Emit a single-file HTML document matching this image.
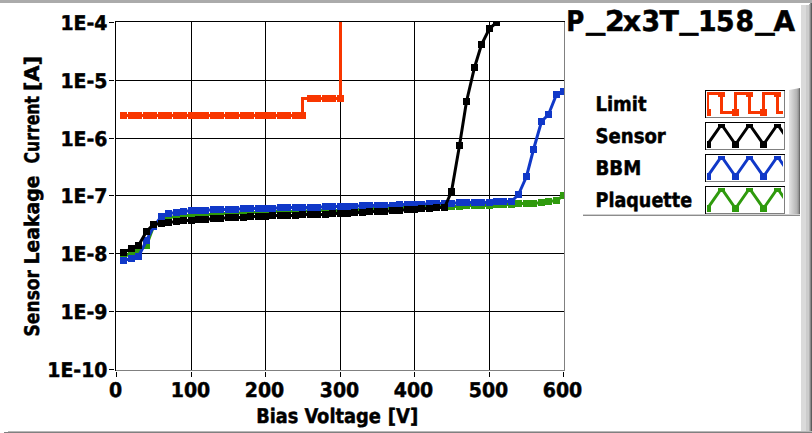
<!DOCTYPE html>
<html><head><meta charset="utf-8"><title>P_2x3T_158_A</title>
<style>html,body{margin:0;padding:0;background:#fff;overflow:hidden}body{width:812px;height:433px;position:relative}</style>
</head><body>
<svg width="812" height="433" viewBox="0 0 812 433" style="position:absolute;left:0;top:0">
<defs>
<clipPath id="pc"><rect x="116" y="22" width="448" height="348"/></clipPath>
<clipPath id="lc0"><rect x="707" y="92" width="76" height="24"/></clipPath>
<clipPath id="lc1"><rect x="707" y="124" width="76" height="24"/></clipPath>
<clipPath id="lc2"><rect x="707" y="156" width="76" height="24"/></clipPath>
<clipPath id="lc3"><rect x="707" y="188" width="76" height="24"/></clipPath>
<linearGradient id="lg" x1="0" x2="1" y1="0" y2="0"><stop offset="0" stop-color="#e4e4e4"/><stop offset="0.7" stop-color="#b4b4b4"/><stop offset="0.85" stop-color="#9a9a9a"/><stop offset="1" stop-color="#5a5a5a"/></linearGradient>
</defs>
<rect width="812" height="433" fill="#fff"/>
<g shape-rendering="crispEdges">
<rect x="0" y="0" width="812" height="3" fill="#ababab"/>
<rect x="801" y="5" width="5" height="428" fill="#dadada"/>
<rect x="806" y="5" width="3" height="428" fill="#cccccc"/>
<rect x="809" y="4" width="1" height="429" fill="#b0b0b0"/>
<rect x="810" y="3" width="1" height="430" fill="#8a8a8a"/>
<rect x="811" y="3" width="1" height="430" fill="#5c5c5c"/>
<rect x="8" y="431" width="804" height="1" fill="#b8b8b8"/>
<rect x="4" y="432" width="808" height="1" fill="#808080"/>
<rect x="191" y="22" width="1" height="348" fill="#000"/>
<rect x="265" y="22" width="1" height="348" fill="#000"/>
<rect x="340" y="22" width="1" height="348" fill="#000"/>
<rect x="414" y="22" width="1" height="348" fill="#000"/>
<rect x="489" y="22" width="1" height="348" fill="#000"/>
<rect x="116" y="80" width="448" height="1" fill="#000"/>
<rect x="116" y="138" width="448" height="1" fill="#000"/>
<rect x="116" y="195" width="448" height="1" fill="#000"/>
<rect x="116" y="253" width="448" height="1" fill="#000"/>
<rect x="116" y="311" width="448" height="1" fill="#000"/>
<rect x="115" y="21" width="450" height="1" fill="#000"/>
<rect x="115" y="21" width="1" height="350" fill="#000"/>
<rect x="564" y="22" width="1" height="349" fill="#808080"/>
<rect x="116" y="370" width="449" height="1" fill="#808080"/>
<rect x="109" y="22" width="5" height="1" fill="#000"/>
<rect x="109" y="80" width="5" height="1" fill="#000"/>
<rect x="109" y="138" width="5" height="1" fill="#000"/>
<rect x="109" y="195" width="5" height="1" fill="#000"/>
<rect x="109" y="253" width="5" height="1" fill="#000"/>
<rect x="109" y="311" width="5" height="1" fill="#000"/>
<rect x="109" y="369" width="5" height="1" fill="#000"/>
<rect x="116" y="372" width="1" height="5" fill="#000"/>
<rect x="191" y="372" width="1" height="5" fill="#000"/>
<rect x="265" y="372" width="1" height="5" fill="#000"/>
<rect x="340" y="372" width="1" height="5" fill="#000"/>
<rect x="414" y="372" width="1" height="5" fill="#000"/>
<rect x="489" y="372" width="1" height="5" fill="#000"/>
<rect x="563" y="372" width="1" height="5" fill="#000"/>
</g>
<g clip-path="url(#pc)">
<polyline fill="none" stroke="#2f9a0d" stroke-width="3" stroke-linejoin="miter" stroke-linecap="square" points="123.5,256.5 131.5,253.5 138.5,250.5 146.5,245.5 153.5,226.5 161.5,219.5 168.5,217.5 176.5,216.5 183.5,215.5 191.5,215.5 198.5,214.5 205.5,214.5 213.5,214.5 220.5,213.5 228.5,213.5 235.5,213.5 243.5,212.5 250.5,212.5 258.5,212.5 265.5,212.5 272.5,211.5 280.5,211.5 287.5,211.5 295.5,211.5 302.5,211.5 310.5,210.5 317.5,210.5 325.5,210.5 332.5,210.5 340.5,210.5 347.5,209.5 354.5,209.5 362.5,209.5 369.5,208.5 377.5,208.5 384.5,208.5 392.5,207.5 399.5,207.5 407.5,207.5 414.5,207.5 421.5,206.5 429.5,206.5 436.5,206.5 444.5,206.5 451.5,206.5 459.5,206.5 466.5,205.5 474.5,205.5 481.5,205.5 489.5,205.5 496.5,204.5 503.5,204.5 511.5,204.5 518.5,203.5 526.5,203.5 533.5,203.5 541.5,202.5 548.5,201.5 556.5,200.5 563.5,195.5"/>
<g shape-rendering="crispEdges"><rect x="120" y="253" width="7" height="7" fill="#2f9a0d"/><rect x="128" y="250" width="7" height="7" fill="#2f9a0d"/><rect x="135" y="247" width="7" height="7" fill="#2f9a0d"/><rect x="143" y="242" width="7" height="7" fill="#2f9a0d"/><rect x="150" y="223" width="7" height="7" fill="#2f9a0d"/><rect x="158" y="216" width="7" height="7" fill="#2f9a0d"/><rect x="165" y="214" width="7" height="7" fill="#2f9a0d"/><rect x="173" y="213" width="7" height="7" fill="#2f9a0d"/><rect x="180" y="212" width="7" height="7" fill="#2f9a0d"/><rect x="188" y="212" width="7" height="7" fill="#2f9a0d"/><rect x="195" y="211" width="7" height="7" fill="#2f9a0d"/><rect x="202" y="211" width="7" height="7" fill="#2f9a0d"/><rect x="210" y="211" width="7" height="7" fill="#2f9a0d"/><rect x="217" y="210" width="7" height="7" fill="#2f9a0d"/><rect x="225" y="210" width="7" height="7" fill="#2f9a0d"/><rect x="232" y="210" width="7" height="7" fill="#2f9a0d"/><rect x="240" y="209" width="7" height="7" fill="#2f9a0d"/><rect x="247" y="209" width="7" height="7" fill="#2f9a0d"/><rect x="255" y="209" width="7" height="7" fill="#2f9a0d"/><rect x="262" y="209" width="7" height="7" fill="#2f9a0d"/><rect x="269" y="208" width="7" height="7" fill="#2f9a0d"/><rect x="277" y="208" width="7" height="7" fill="#2f9a0d"/><rect x="284" y="208" width="7" height="7" fill="#2f9a0d"/><rect x="292" y="208" width="7" height="7" fill="#2f9a0d"/><rect x="299" y="208" width="7" height="7" fill="#2f9a0d"/><rect x="307" y="207" width="7" height="7" fill="#2f9a0d"/><rect x="314" y="207" width="7" height="7" fill="#2f9a0d"/><rect x="322" y="207" width="7" height="7" fill="#2f9a0d"/><rect x="329" y="207" width="7" height="7" fill="#2f9a0d"/><rect x="337" y="207" width="7" height="7" fill="#2f9a0d"/><rect x="344" y="206" width="7" height="7" fill="#2f9a0d"/><rect x="351" y="206" width="7" height="7" fill="#2f9a0d"/><rect x="359" y="206" width="7" height="7" fill="#2f9a0d"/><rect x="366" y="205" width="7" height="7" fill="#2f9a0d"/><rect x="374" y="205" width="7" height="7" fill="#2f9a0d"/><rect x="381" y="205" width="7" height="7" fill="#2f9a0d"/><rect x="389" y="204" width="7" height="7" fill="#2f9a0d"/><rect x="396" y="204" width="7" height="7" fill="#2f9a0d"/><rect x="404" y="204" width="7" height="7" fill="#2f9a0d"/><rect x="411" y="204" width="7" height="7" fill="#2f9a0d"/><rect x="418" y="203" width="7" height="7" fill="#2f9a0d"/><rect x="426" y="203" width="7" height="7" fill="#2f9a0d"/><rect x="433" y="203" width="7" height="7" fill="#2f9a0d"/><rect x="441" y="203" width="7" height="7" fill="#2f9a0d"/><rect x="448" y="203" width="7" height="7" fill="#2f9a0d"/><rect x="456" y="203" width="7" height="7" fill="#2f9a0d"/><rect x="463" y="202" width="7" height="7" fill="#2f9a0d"/><rect x="471" y="202" width="7" height="7" fill="#2f9a0d"/><rect x="478" y="202" width="7" height="7" fill="#2f9a0d"/><rect x="486" y="202" width="7" height="7" fill="#2f9a0d"/><rect x="493" y="201" width="7" height="7" fill="#2f9a0d"/><rect x="500" y="201" width="7" height="7" fill="#2f9a0d"/><rect x="508" y="201" width="7" height="7" fill="#2f9a0d"/><rect x="515" y="200" width="7" height="7" fill="#2f9a0d"/><rect x="523" y="200" width="7" height="7" fill="#2f9a0d"/><rect x="530" y="200" width="7" height="7" fill="#2f9a0d"/><rect x="538" y="199" width="7" height="7" fill="#2f9a0d"/><rect x="545" y="198" width="7" height="7" fill="#2f9a0d"/><rect x="553" y="197" width="7" height="7" fill="#2f9a0d"/><rect x="560" y="192" width="7" height="7" fill="#2f9a0d"/></g>
<polyline fill="none" stroke="#1038c8" stroke-width="3" stroke-linejoin="miter" stroke-linecap="square" points="123.5,260.5 131.5,258.5 138.5,256.5 146.5,240.5 153.5,226.5 161.5,216.5 168.5,213.5 176.5,212.5 183.5,211.5 191.5,210.5 198.5,210.5 205.5,210.5 213.5,209.5 220.5,209.5 228.5,209.5 235.5,209.5 243.5,208.5 250.5,208.5 258.5,208.5 265.5,208.5 272.5,208.5 280.5,207.5 287.5,207.5 295.5,207.5 302.5,207.5 310.5,207.5 317.5,207.5 325.5,206.5 332.5,206.5 340.5,206.5 347.5,206.5 354.5,206.5 362.5,205.5 369.5,205.5 377.5,205.5 384.5,205.5 392.5,205.5 399.5,204.5 407.5,204.5 414.5,204.5 421.5,204.5 429.5,203.5 436.5,203.5 444.5,203.5 451.5,203.5 459.5,202.5 466.5,202.5 474.5,202.5 481.5,202.5 489.5,202.5 496.5,201.5 503.5,201.5 511.5,201.5 518.5,194.5 526.5,176.5 533.5,149.5 541.5,121.5 548.5,114.5 556.5,94.5 563.5,91.5"/>
<g shape-rendering="crispEdges"><rect x="120" y="257" width="7" height="7" fill="#1038c8"/><rect x="128" y="255" width="7" height="7" fill="#1038c8"/><rect x="135" y="253" width="7" height="7" fill="#1038c8"/><rect x="143" y="237" width="7" height="7" fill="#1038c8"/><rect x="150" y="223" width="7" height="7" fill="#1038c8"/><rect x="158" y="213" width="7" height="7" fill="#1038c8"/><rect x="165" y="210" width="7" height="7" fill="#1038c8"/><rect x="173" y="209" width="7" height="7" fill="#1038c8"/><rect x="180" y="208" width="7" height="7" fill="#1038c8"/><rect x="188" y="207" width="7" height="7" fill="#1038c8"/><rect x="195" y="207" width="7" height="7" fill="#1038c8"/><rect x="202" y="207" width="7" height="7" fill="#1038c8"/><rect x="210" y="206" width="7" height="7" fill="#1038c8"/><rect x="217" y="206" width="7" height="7" fill="#1038c8"/><rect x="225" y="206" width="7" height="7" fill="#1038c8"/><rect x="232" y="206" width="7" height="7" fill="#1038c8"/><rect x="240" y="205" width="7" height="7" fill="#1038c8"/><rect x="247" y="205" width="7" height="7" fill="#1038c8"/><rect x="255" y="205" width="7" height="7" fill="#1038c8"/><rect x="262" y="205" width="7" height="7" fill="#1038c8"/><rect x="269" y="205" width="7" height="7" fill="#1038c8"/><rect x="277" y="204" width="7" height="7" fill="#1038c8"/><rect x="284" y="204" width="7" height="7" fill="#1038c8"/><rect x="292" y="204" width="7" height="7" fill="#1038c8"/><rect x="299" y="204" width="7" height="7" fill="#1038c8"/><rect x="307" y="204" width="7" height="7" fill="#1038c8"/><rect x="314" y="204" width="7" height="7" fill="#1038c8"/><rect x="322" y="203" width="7" height="7" fill="#1038c8"/><rect x="329" y="203" width="7" height="7" fill="#1038c8"/><rect x="337" y="203" width="7" height="7" fill="#1038c8"/><rect x="344" y="203" width="7" height="7" fill="#1038c8"/><rect x="351" y="203" width="7" height="7" fill="#1038c8"/><rect x="359" y="202" width="7" height="7" fill="#1038c8"/><rect x="366" y="202" width="7" height="7" fill="#1038c8"/><rect x="374" y="202" width="7" height="7" fill="#1038c8"/><rect x="381" y="202" width="7" height="7" fill="#1038c8"/><rect x="389" y="202" width="7" height="7" fill="#1038c8"/><rect x="396" y="201" width="7" height="7" fill="#1038c8"/><rect x="404" y="201" width="7" height="7" fill="#1038c8"/><rect x="411" y="201" width="7" height="7" fill="#1038c8"/><rect x="418" y="201" width="7" height="7" fill="#1038c8"/><rect x="426" y="200" width="7" height="7" fill="#1038c8"/><rect x="433" y="200" width="7" height="7" fill="#1038c8"/><rect x="441" y="200" width="7" height="7" fill="#1038c8"/><rect x="448" y="200" width="7" height="7" fill="#1038c8"/><rect x="456" y="199" width="7" height="7" fill="#1038c8"/><rect x="463" y="199" width="7" height="7" fill="#1038c8"/><rect x="471" y="199" width="7" height="7" fill="#1038c8"/><rect x="478" y="199" width="7" height="7" fill="#1038c8"/><rect x="486" y="199" width="7" height="7" fill="#1038c8"/><rect x="493" y="198" width="7" height="7" fill="#1038c8"/><rect x="500" y="198" width="7" height="7" fill="#1038c8"/><rect x="508" y="198" width="7" height="7" fill="#1038c8"/><rect x="515" y="191" width="7" height="7" fill="#1038c8"/><rect x="523" y="173" width="7" height="7" fill="#1038c8"/><rect x="530" y="146" width="7" height="7" fill="#1038c8"/><rect x="538" y="118" width="7" height="7" fill="#1038c8"/><rect x="545" y="111" width="7" height="7" fill="#1038c8"/><rect x="553" y="91" width="7" height="7" fill="#1038c8"/><rect x="560" y="88" width="7" height="7" fill="#1038c8"/></g>
<polyline fill="none" stroke="#000" stroke-width="3" stroke-linejoin="miter" stroke-linecap="square" points="123.5,252.5 131.5,248.5 138.5,245.5 146.5,231.5 153.5,224.5 161.5,223.5 168.5,222.5 176.5,221.5 183.5,220.5 191.5,220.5 198.5,219.5 205.5,219.5 213.5,218.5 220.5,218.5 228.5,217.5 235.5,217.5 243.5,217.5 250.5,216.5 258.5,216.5 265.5,216.5 272.5,215.5 280.5,215.5 287.5,215.5 295.5,215.5 302.5,214.5 310.5,214.5 317.5,214.5 325.5,214.5 332.5,213.5 340.5,213.5 347.5,213.5 354.5,212.5 362.5,212.5 369.5,211.5 377.5,211.5 384.5,211.5 392.5,210.5 399.5,210.5 407.5,209.5 414.5,209.5 421.5,208.5 429.5,208.5 436.5,207.5 444.5,207.5 451.5,191.5 459.5,145.5 466.5,101.5 474.5,67.5 481.5,44.5 489.5,28.5 496.5,22.5"/>
<g shape-rendering="crispEdges"><rect x="120" y="249" width="7" height="7" fill="#000"/><rect x="128" y="245" width="7" height="7" fill="#000"/><rect x="135" y="242" width="7" height="7" fill="#000"/><rect x="143" y="228" width="7" height="7" fill="#000"/><rect x="150" y="221" width="7" height="7" fill="#000"/><rect x="158" y="220" width="7" height="7" fill="#000"/><rect x="165" y="219" width="7" height="7" fill="#000"/><rect x="173" y="218" width="7" height="7" fill="#000"/><rect x="180" y="217" width="7" height="7" fill="#000"/><rect x="188" y="217" width="7" height="7" fill="#000"/><rect x="195" y="216" width="7" height="7" fill="#000"/><rect x="202" y="216" width="7" height="7" fill="#000"/><rect x="210" y="215" width="7" height="7" fill="#000"/><rect x="217" y="215" width="7" height="7" fill="#000"/><rect x="225" y="214" width="7" height="7" fill="#000"/><rect x="232" y="214" width="7" height="7" fill="#000"/><rect x="240" y="214" width="7" height="7" fill="#000"/><rect x="247" y="213" width="7" height="7" fill="#000"/><rect x="255" y="213" width="7" height="7" fill="#000"/><rect x="262" y="213" width="7" height="7" fill="#000"/><rect x="269" y="212" width="7" height="7" fill="#000"/><rect x="277" y="212" width="7" height="7" fill="#000"/><rect x="284" y="212" width="7" height="7" fill="#000"/><rect x="292" y="212" width="7" height="7" fill="#000"/><rect x="299" y="211" width="7" height="7" fill="#000"/><rect x="307" y="211" width="7" height="7" fill="#000"/><rect x="314" y="211" width="7" height="7" fill="#000"/><rect x="322" y="211" width="7" height="7" fill="#000"/><rect x="329" y="210" width="7" height="7" fill="#000"/><rect x="337" y="210" width="7" height="7" fill="#000"/><rect x="344" y="210" width="7" height="7" fill="#000"/><rect x="351" y="209" width="7" height="7" fill="#000"/><rect x="359" y="209" width="7" height="7" fill="#000"/><rect x="366" y="208" width="7" height="7" fill="#000"/><rect x="374" y="208" width="7" height="7" fill="#000"/><rect x="381" y="208" width="7" height="7" fill="#000"/><rect x="389" y="207" width="7" height="7" fill="#000"/><rect x="396" y="207" width="7" height="7" fill="#000"/><rect x="404" y="206" width="7" height="7" fill="#000"/><rect x="411" y="206" width="7" height="7" fill="#000"/><rect x="418" y="205" width="7" height="7" fill="#000"/><rect x="426" y="205" width="7" height="7" fill="#000"/><rect x="433" y="204" width="7" height="7" fill="#000"/><rect x="441" y="204" width="7" height="7" fill="#000"/><rect x="448" y="188" width="7" height="7" fill="#000"/><rect x="456" y="142" width="7" height="7" fill="#000"/><rect x="463" y="98" width="7" height="7" fill="#000"/><rect x="471" y="64" width="7" height="7" fill="#000"/><rect x="478" y="41" width="7" height="7" fill="#000"/><rect x="486" y="25" width="7" height="7" fill="#000"/><rect x="493" y="19" width="7" height="7" fill="#000"/></g>
<polyline fill="none" stroke="#f83600" stroke-width="3" stroke-linejoin="miter" stroke-linecap="square" points="123.5,115.5 131.5,115.5 138.5,115.5 146.5,115.5 153.5,115.5 161.5,115.5 168.5,115.5 176.5,115.5 183.5,115.5 191.5,115.5 198.5,115.5 205.5,115.5 213.5,115.5 220.5,115.5 228.5,115.5 235.5,115.5 243.5,115.5 250.5,115.5 258.5,115.5 265.5,115.5 272.5,115.5 280.5,115.5 287.5,115.5 295.5,115.5 302.5,115.5 302.5,98.5 310.5,98.5 317.5,98.5 325.5,98.5 332.5,98.5 340.5,98.5 340.5,10.5"/>
<g shape-rendering="crispEdges"><rect x="120" y="112" width="7" height="7" fill="#f83600"/><rect x="128" y="112" width="7" height="7" fill="#f83600"/><rect x="135" y="112" width="7" height="7" fill="#f83600"/><rect x="143" y="112" width="7" height="7" fill="#f83600"/><rect x="150" y="112" width="7" height="7" fill="#f83600"/><rect x="158" y="112" width="7" height="7" fill="#f83600"/><rect x="165" y="112" width="7" height="7" fill="#f83600"/><rect x="173" y="112" width="7" height="7" fill="#f83600"/><rect x="180" y="112" width="7" height="7" fill="#f83600"/><rect x="188" y="112" width="7" height="7" fill="#f83600"/><rect x="195" y="112" width="7" height="7" fill="#f83600"/><rect x="202" y="112" width="7" height="7" fill="#f83600"/><rect x="210" y="112" width="7" height="7" fill="#f83600"/><rect x="217" y="112" width="7" height="7" fill="#f83600"/><rect x="225" y="112" width="7" height="7" fill="#f83600"/><rect x="232" y="112" width="7" height="7" fill="#f83600"/><rect x="240" y="112" width="7" height="7" fill="#f83600"/><rect x="247" y="112" width="7" height="7" fill="#f83600"/><rect x="255" y="112" width="7" height="7" fill="#f83600"/><rect x="262" y="112" width="7" height="7" fill="#f83600"/><rect x="269" y="112" width="7" height="7" fill="#f83600"/><rect x="277" y="112" width="7" height="7" fill="#f83600"/><rect x="284" y="112" width="7" height="7" fill="#f83600"/><rect x="292" y="112" width="7" height="7" fill="#f83600"/><rect x="299" y="112" width="7" height="7" fill="#f83600"/><rect x="307" y="95" width="7" height="7" fill="#f83600"/><rect x="314" y="95" width="7" height="7" fill="#f83600"/><rect x="322" y="95" width="7" height="7" fill="#f83600"/><rect x="329" y="95" width="7" height="7" fill="#f83600"/><rect x="337" y="95" width="7" height="7" fill="#f83600"/></g>
</g>
<polygon points="789,90 800,88 800,216 789,214" fill="url(#lg)"/>
<rect x="583" y="214" width="217" height="1" fill="#d0d0d0" shape-rendering="crispEdges"/>
<rect x="583" y="215" width="217" height="1" fill="#8c8c8c" shape-rendering="crispEdges"/>
<g shape-rendering="crispEdges"><rect x="705" y="90" width="80" height="28" fill="#fff"/>
<rect x="705" y="90" width="80" height="1" fill="#000"/><rect x="705" y="90" width="1" height="28" fill="#000"/>
<rect x="784" y="91" width="1" height="27" fill="#808080"/><rect x="706" y="117" width="79" height="1" fill="#808080"/></g>
<g clip-path="url(#lc0)">
<polyline fill="none" stroke="#f83600" stroke-width="3" stroke-linejoin="miter" stroke-linecap="square" points="707.5,112.5 707.5,93.5 721.5,93.5 721.5,112.5 735.5,112.5 735.5,93.5 749.5,93.5 749.5,112.5 763.5,112.5 763.5,93.5 777.5,93.5 777.5,112.5 791.5,112.5"/>
<g shape-rendering="crispEdges"><rect x="704" y="109" width="7" height="7" fill="#f83600"/><rect x="718" y="90" width="7" height="7" fill="#f83600"/><rect x="732" y="109" width="7" height="7" fill="#f83600"/><rect x="746" y="90" width="7" height="7" fill="#f83600"/><rect x="760" y="109" width="7" height="7" fill="#f83600"/><rect x="774" y="90" width="7" height="7" fill="#f83600"/><rect x="788" y="109" width="7" height="7" fill="#f83600"/></g>
</g>
<g shape-rendering="crispEdges"><rect x="705" y="122" width="80" height="28" fill="#fff"/>
<rect x="705" y="122" width="80" height="1" fill="#000"/><rect x="705" y="122" width="1" height="28" fill="#000"/>
<rect x="784" y="123" width="1" height="27" fill="#808080"/><rect x="706" y="149" width="79" height="1" fill="#808080"/></g>
<g clip-path="url(#lc1)">
<polyline fill="none" stroke="#000" stroke-width="3" stroke-linejoin="miter" stroke-linecap="square" points="707.5,144.5 721.5,124.5 735.5,144.5 749.5,124.5 763.5,144.5 777.5,124.5 791.5,144.5"/>
<g shape-rendering="crispEdges"><rect x="704" y="141" width="7" height="7" fill="#000"/><rect x="718" y="121" width="7" height="7" fill="#000"/><rect x="732" y="141" width="7" height="7" fill="#000"/><rect x="746" y="121" width="7" height="7" fill="#000"/><rect x="760" y="141" width="7" height="7" fill="#000"/><rect x="774" y="121" width="7" height="7" fill="#000"/><rect x="788" y="141" width="7" height="7" fill="#000"/></g>
</g>
<g shape-rendering="crispEdges"><rect x="705" y="154" width="80" height="28" fill="#fff"/>
<rect x="705" y="154" width="80" height="1" fill="#000"/><rect x="705" y="154" width="1" height="28" fill="#000"/>
<rect x="784" y="155" width="1" height="27" fill="#808080"/><rect x="706" y="181" width="79" height="1" fill="#808080"/></g>
<g clip-path="url(#lc2)">
<polyline fill="none" stroke="#1038c8" stroke-width="3" stroke-linejoin="miter" stroke-linecap="square" points="707.5,176.5 721.5,156.5 735.5,176.5 749.5,156.5 763.5,176.5 777.5,156.5 791.5,176.5"/>
<g shape-rendering="crispEdges"><rect x="704" y="173" width="7" height="7" fill="#1038c8"/><rect x="718" y="153" width="7" height="7" fill="#1038c8"/><rect x="732" y="173" width="7" height="7" fill="#1038c8"/><rect x="746" y="153" width="7" height="7" fill="#1038c8"/><rect x="760" y="173" width="7" height="7" fill="#1038c8"/><rect x="774" y="153" width="7" height="7" fill="#1038c8"/><rect x="788" y="173" width="7" height="7" fill="#1038c8"/></g>
</g>
<g shape-rendering="crispEdges"><rect x="705" y="186" width="80" height="28" fill="#fff"/>
<rect x="705" y="186" width="80" height="1" fill="#000"/><rect x="705" y="186" width="1" height="28" fill="#000"/>
<rect x="784" y="187" width="1" height="27" fill="#808080"/><rect x="706" y="213" width="79" height="1" fill="#808080"/></g>
<g clip-path="url(#lc3)">
<polyline fill="none" stroke="#2f9a0d" stroke-width="3" stroke-linejoin="miter" stroke-linecap="square" points="707.5,208.5 721.5,188.5 735.5,208.5 749.5,188.5 763.5,208.5 777.5,188.5 791.5,208.5"/>
<g shape-rendering="crispEdges"><rect x="704" y="205" width="7" height="7" fill="#2f9a0d"/><rect x="718" y="185" width="7" height="7" fill="#2f9a0d"/><rect x="732" y="205" width="7" height="7" fill="#2f9a0d"/><rect x="746" y="185" width="7" height="7" fill="#2f9a0d"/><rect x="760" y="205" width="7" height="7" fill="#2f9a0d"/><rect x="774" y="185" width="7" height="7" fill="#2f9a0d"/><rect x="788" y="205" width="7" height="7" fill="#2f9a0d"/></g>
</g>
<text x="60.45" y="30" font-size="20.2" text-anchor="start" font-family="'DejaVu Sans Condensed','DejaVu Sans','Liberation Sans',sans-serif" font-stretch="condensed" font-weight="bold" text-rendering="geometricPrecision" stroke="#000" stroke-width="0.45" stroke-linejoin="round"  textLength="47.05" lengthAdjust="spacingAndGlyphs">1E-4</text>
<text x="60.45" y="88" font-size="20.2" text-anchor="start" font-family="'DejaVu Sans Condensed','DejaVu Sans','Liberation Sans',sans-serif" font-stretch="condensed" font-weight="bold" text-rendering="geometricPrecision" stroke="#000" stroke-width="0.45" stroke-linejoin="round"  textLength="47.05" lengthAdjust="spacingAndGlyphs">1E-5</text>
<text x="60.45" y="146" font-size="20.2" text-anchor="start" font-family="'DejaVu Sans Condensed','DejaVu Sans','Liberation Sans',sans-serif" font-stretch="condensed" font-weight="bold" text-rendering="geometricPrecision" stroke="#000" stroke-width="0.45" stroke-linejoin="round"  textLength="47.05" lengthAdjust="spacingAndGlyphs">1E-6</text>
<text x="60.45" y="203" font-size="20.2" text-anchor="start" font-family="'DejaVu Sans Condensed','DejaVu Sans','Liberation Sans',sans-serif" font-stretch="condensed" font-weight="bold" text-rendering="geometricPrecision" stroke="#000" stroke-width="0.45" stroke-linejoin="round"  textLength="47.05" lengthAdjust="spacingAndGlyphs">1E-7</text>
<text x="60.45" y="261" font-size="20.2" text-anchor="start" font-family="'DejaVu Sans Condensed','DejaVu Sans','Liberation Sans',sans-serif" font-stretch="condensed" font-weight="bold" text-rendering="geometricPrecision" stroke="#000" stroke-width="0.45" stroke-linejoin="round"  textLength="47.05" lengthAdjust="spacingAndGlyphs">1E-8</text>
<text x="60.45" y="319" font-size="20.2" text-anchor="start" font-family="'DejaVu Sans Condensed','DejaVu Sans','Liberation Sans',sans-serif" font-stretch="condensed" font-weight="bold" text-rendering="geometricPrecision" stroke="#000" stroke-width="0.45" stroke-linejoin="round"  textLength="47.05" lengthAdjust="spacingAndGlyphs">1E-9</text>
<text x="47.3" y="377" font-size="20.2" text-anchor="start" font-family="'DejaVu Sans Condensed','DejaVu Sans','Liberation Sans',sans-serif" font-stretch="condensed" font-weight="bold" text-rendering="geometricPrecision" stroke="#000" stroke-width="0.45" stroke-linejoin="round"  textLength="60.2" lengthAdjust="spacingAndGlyphs">1E-10</text>
<text x="108.925" y="397" font-size="20.2" text-anchor="start" font-family="'DejaVu Sans Condensed','DejaVu Sans','Liberation Sans',sans-serif" font-stretch="condensed" font-weight="bold" text-rendering="geometricPrecision" stroke="#000" stroke-width="0.45" stroke-linejoin="round"  textLength="13.15" lengthAdjust="spacingAndGlyphs">0</text>
<text x="170.775" y="397" font-size="20.2" text-anchor="start" font-family="'DejaVu Sans Condensed','DejaVu Sans','Liberation Sans',sans-serif" font-stretch="condensed" font-weight="bold" text-rendering="geometricPrecision" stroke="#000" stroke-width="0.45" stroke-linejoin="round"  textLength="39.45" lengthAdjust="spacingAndGlyphs">100</text>
<text x="244.775" y="397" font-size="20.2" text-anchor="start" font-family="'DejaVu Sans Condensed','DejaVu Sans','Liberation Sans',sans-serif" font-stretch="condensed" font-weight="bold" text-rendering="geometricPrecision" stroke="#000" stroke-width="0.45" stroke-linejoin="round"  textLength="39.45" lengthAdjust="spacingAndGlyphs">200</text>
<text x="319.775" y="397" font-size="20.2" text-anchor="start" font-family="'DejaVu Sans Condensed','DejaVu Sans','Liberation Sans',sans-serif" font-stretch="condensed" font-weight="bold" text-rendering="geometricPrecision" stroke="#000" stroke-width="0.45" stroke-linejoin="round"  textLength="39.45" lengthAdjust="spacingAndGlyphs">300</text>
<text x="393.775" y="397" font-size="20.2" text-anchor="start" font-family="'DejaVu Sans Condensed','DejaVu Sans','Liberation Sans',sans-serif" font-stretch="condensed" font-weight="bold" text-rendering="geometricPrecision" stroke="#000" stroke-width="0.45" stroke-linejoin="round"  textLength="39.45" lengthAdjust="spacingAndGlyphs">400</text>
<text x="468.775" y="397" font-size="20.2" text-anchor="start" font-family="'DejaVu Sans Condensed','DejaVu Sans','Liberation Sans',sans-serif" font-stretch="condensed" font-weight="bold" text-rendering="geometricPrecision" stroke="#000" stroke-width="0.45" stroke-linejoin="round"  textLength="39.45" lengthAdjust="spacingAndGlyphs">500</text>
<text x="542.775" y="397" font-size="20.2" text-anchor="start" font-family="'DejaVu Sans Condensed','DejaVu Sans','Liberation Sans',sans-serif" font-stretch="condensed" font-weight="bold" text-rendering="geometricPrecision" stroke="#000" stroke-width="0.45" stroke-linejoin="round"  textLength="39.45" lengthAdjust="spacingAndGlyphs">600</text>
<text aria-label="Bias Voltage [V]" y="423" font-size="20.2" font-family="'DejaVu Sans Condensed','DejaVu Sans','Liberation Sans',sans-serif" font-stretch="condensed" font-weight="bold" text-rendering="geometricPrecision" stroke="#000" stroke-width="0.45" stroke-linejoin="round"><tspan x="256.3" textLength="48.2" lengthAdjust="spacingAndGlyphs">Bias </tspan><tspan x="304.4" textLength="82.8" lengthAdjust="spacingAndGlyphs">Voltage </tspan><tspan x="387.7" textLength="30.5" lengthAdjust="spacingAndGlyphs">[V]</tspan></text>
<g transform="translate(39,336) rotate(-90)"><text aria-label="Sensor Leakage Current [A]" y="0" font-size="20.2" font-family="'DejaVu Sans Condensed','DejaVu Sans','Liberation Sans',sans-serif" font-stretch="condensed" font-weight="bold" text-rendering="geometricPrecision" stroke="#000" stroke-width="0.45" stroke-linejoin="round"><tspan x="-0.5" textLength="72.5" lengthAdjust="spacingAndGlyphs">Sensor </tspan><tspan x="71.5" textLength="95.5" lengthAdjust="spacingAndGlyphs">Leakage </tspan><tspan x="172.5" textLength="73" lengthAdjust="spacingAndGlyphs">Current </tspan><tspan x="245" textLength="35" lengthAdjust="spacingAndGlyphs">[A]</tspan></text></g>
<text aria-label="P_2x3T_158_A" y="30.5" font-size="28.5" font-family="'DejaVu Sans Condensed','DejaVu Sans','Liberation Sans',sans-serif" font-stretch="condensed" font-weight="bold" text-rendering="geometricPrecision" stroke="#000" stroke-width="0.45" stroke-linejoin="round"><tspan x="566.3" y="30.5" textLength="18" lengthAdjust="spacingAndGlyphs">P</tspan><tspan x="586" y="29.3" textLength="19.2" lengthAdjust="spacingAndGlyphs">_</tspan><tspan x="605" y="30.5" textLength="19.8" lengthAdjust="spacingAndGlyphs">2</tspan><tspan x="622.8" y="30.5" textLength="18.4" lengthAdjust="spacingAndGlyphs">x</tspan><tspan x="641.6" y="30.5" textLength="18.6" lengthAdjust="spacingAndGlyphs">3</tspan><tspan x="659.6" y="30.5" textLength="19.4" lengthAdjust="spacingAndGlyphs">T</tspan><tspan x="679.6" y="29.3" textLength="18.8" lengthAdjust="spacingAndGlyphs">_</tspan><tspan x="698" y="30.5" textLength="18.6" lengthAdjust="spacingAndGlyphs">1</tspan><tspan x="716" y="30.5" textLength="18.6" lengthAdjust="spacingAndGlyphs">5</tspan><tspan x="735.4" y="30.5" textLength="18.6" lengthAdjust="spacingAndGlyphs">8</tspan><tspan x="755.2" y="29.3" textLength="19.4" lengthAdjust="spacingAndGlyphs">_</tspan><tspan x="773.6" y="30.5" textLength="21.6" lengthAdjust="spacingAndGlyphs">A</tspan></text>
<text x="595.5" y="111" font-size="20.2" text-anchor="start" font-family="'DejaVu Sans Condensed','DejaVu Sans','Liberation Sans',sans-serif" font-stretch="condensed" font-weight="bold" text-rendering="geometricPrecision" stroke="#000" stroke-width="0.45" stroke-linejoin="round"  textLength="51.1" lengthAdjust="spacingAndGlyphs">Limit</text>
<text x="595.5" y="143" font-size="20.2" text-anchor="start" font-family="'DejaVu Sans Condensed','DejaVu Sans','Liberation Sans',sans-serif" font-stretch="condensed" font-weight="bold" text-rendering="geometricPrecision" stroke="#000" stroke-width="0.45" stroke-linejoin="round"  textLength="70.3" lengthAdjust="spacingAndGlyphs">Sensor</text>
<text x="595.5" y="175" font-size="20.2" text-anchor="start" font-family="'DejaVu Sans Condensed','DejaVu Sans','Liberation Sans',sans-serif" font-stretch="condensed" font-weight="bold" text-rendering="geometricPrecision" stroke="#000" stroke-width="0.45" stroke-linejoin="round"  textLength="45.7" lengthAdjust="spacingAndGlyphs">BBM</text>
<text x="595.5" y="207" font-size="20.2" text-anchor="start" font-family="'DejaVu Sans Condensed','DejaVu Sans','Liberation Sans',sans-serif" font-stretch="condensed" font-weight="bold" text-rendering="geometricPrecision" stroke="#000" stroke-width="0.45" stroke-linejoin="round"  textLength="96.6" lengthAdjust="spacingAndGlyphs">Plaquette</text>
</svg>
</body></html>
